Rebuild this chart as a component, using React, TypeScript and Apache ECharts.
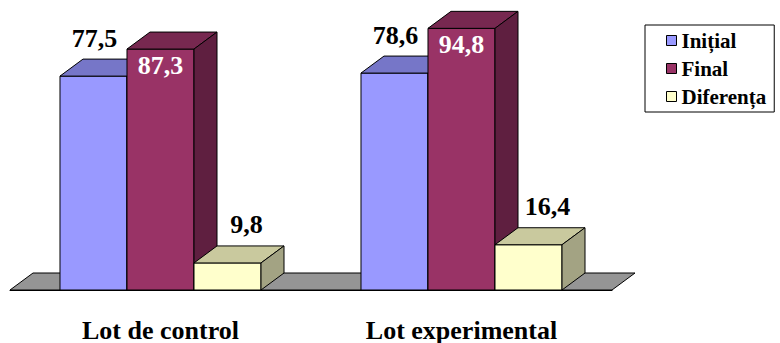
import React, { useEffect, useRef } from "react";
import * as echarts from "echarts";

// Groups on the x axis
const categories = ["Lot de control", "Lot experimental"];

// Series values per group
const seriesNames = ["Inițial", "Final", "Diferența"];
const initialValues = [77.5, 78.6];
const finalValues = [87.3, 94.8];
const differenceValues = [9.8, 16.4];

const SERIF = "Times New Roman";

// Depth of the pseudo-3D extrusion, in pixels
const DX = 23;
const DY = -17;

type Face = { front: string; top: string; side: string };

const faces: Face[] = [
  { front: "#9999FF", top: "#7676C8", side: "#6666AA" },
  { front: "#993366", top: "#772850", side: "#5F1F40" },
  { front: "#FFFFCC", top: "#C9C99E", side: "#A3A383" },
];

// Label placement per series: x shift from front-face centre, inside or above the bar
const labelPlacement: { dx: number; inside: boolean; color: string }[] = [
  { dx: 1, inside: false, color: "#000" },
  { dx: 0, inside: true, color: "#fff" },
  { dx: 19, inside: false, color: "#000" },
];

function formatValue(v: number): string {
  return String(v).replace(".", ",");
}

function makeBarRenderer(k: number) {
  return (params: any, api: any) => {
    const cat = api.value(0);
    const val = api.value(1);
    const top = api.coord([cat, val]);
    const base = api.coord([cat, 0]);
    const band = api.size([1, 0])[0];
    const bw = band * 0.2226;
    const x = top[0] - 1.5 * bw + k * bw;
    const yTop = top[1];
    const y0 = base[1];
    const f = faces[k];
    const lp = labelPlacement[k];
    const labelY = lp.inside ? yTop + 16 : yTop + DY - 21;
    return {
      type: "group",
      children: [
        {
          type: "rect",
          shape: { x, y: yTop, width: bw, height: y0 - yTop },
          style: { fill: f.front, stroke: "#000", lineWidth: 1 },
        },
        {
          type: "polygon",
          shape: {
            points: [
              [x, yTop],
              [x + DX, yTop + DY],
              [x + bw + DX, yTop + DY],
              [x + bw, yTop],
            ],
          },
          style: { fill: f.top, stroke: "#000", lineWidth: 1 },
        },
        {
          type: "polygon",
          shape: {
            points: [
              [x + bw, yTop],
              [x + bw + DX, yTop + DY],
              [x + bw + DX, y0 + DY],
              [x + bw, y0],
            ],
          },
          style: { fill: f.side, stroke: "#000", lineWidth: 1 },
        },
        {
          type: "text",
          style: {
            text: formatValue(val),
            x: x + bw / 2 + lp.dx,
            y: labelY,
            fill: lp.color,
            fontFamily: SERIF,
            fontWeight: "bold",
            fontSize: 26,
            align: "center",
            verticalAlign: "middle",
          },
        },
      ],
    };
  };
}

// Grey floor plane under the bars, spanning the whole category axis
function renderFloor(params: any) {
  const cs = params.coordSys;
  const y = cs.y + cs.height;
  const xl = cs.x;
  const xr = cs.x + cs.width;
  return {
    type: "polygon",
    shape: {
      points: [
        [xl, y],
        [xl + DX, y + DY],
        [xr + DX, y + DY],
        [xr, y],
      ],
    },
    style: { fill: "#959595", stroke: "#000", lineWidth: 1 },
  };
}

// Keep every chart text in the bold Times face
const textCss =
  ".chart-box svg text { font-family: 'Times New Roman', 'Liberation Serif', serif !important; font-weight: bold !important; }";

export default function App() {
  const ref = useRef<HTMLDivElement>(null);

  useEffect(() => {
    if (!ref.current) return;
    const chart = echarts.init(ref.current, null, { renderer: "svg" });
    const valueSets = [initialValues, finalValues, differenceValues];

    chart.setOption({
      animation: false,
      backgroundColor: "#fff",
      grid: { left: 10, right: 168, top: 14, bottom: 53 },
      xAxis: {
        type: "category",
        data: categories,
        axisLine: { lineStyle: { color: "#000" } },
        axisTick: { length: 8, lineStyle: { color: "#000", width: 2 } },
        axisLabel: {
          margin: 27,
          fontFamily: SERIF,
          fontWeight: "bold",
          fontSize: 26,
          color: "#000",
        },
      },
      yAxis: {
        type: "value",
        min: 0,
        max: 100,
        show: false,
      },
      legend: {
        data: seriesNames,
        orient: "vertical",
        left: 645,
        top: 25,
        padding: [5, 8, 5, 21],
        itemWidth: 10,
        itemHeight: 10,
        itemGap: 7,
        icon: "rect",
        selectedMode: false,
        backgroundColor: "#fff",
        borderColor: "#000",
        borderWidth: 1,
        itemStyle: { borderColor: "#000", borderWidth: 1 },
        textStyle: {
          fontFamily: SERIF,
          fontWeight: "bold",
          fontSize: 21,
          color: "#000",
        },
      },
      series: [
        {
          type: "custom",
          name: "floor",
          renderItem: renderFloor,
          data: [[0, 0]],
        },
        ...seriesNames.map((name, k) => ({
          type: "custom",
          name,
          itemStyle: { color: faces[k].front },
          renderItem: makeBarRenderer(k),
          data: valueSets[k].map((v, i) => [i, v]),
        })),
      ],
    });

    return () => chart.dispose();
  }, []);

  return (
    <>
      <style>{textCss}</style>
      <div
        ref={ref}
        className="chart-box"
        style={{ position: "fixed", left: 0, top: 0, width: 780, height: 343 }}
      />
    </>
  );
}
